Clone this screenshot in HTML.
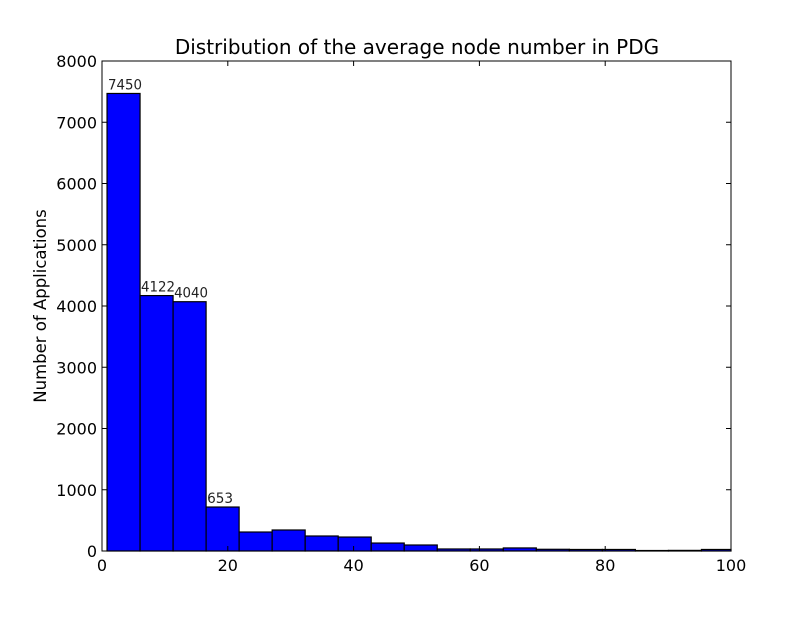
<!DOCTYPE html>
<html><head><meta charset="utf-8"><style>
body{margin:0;background:#fff;}
svg text{font-family:"DejaVu Sans","Liberation Sans",sans-serif;}
</style></head><body>
<svg id="chart" width="812" height="612" xmlns="http://www.w3.org/2000/svg">
<rect width="812" height="612" fill="#fff"/>
<text x="417" y="54" font-size="20" text-anchor="middle">Distribution of the average node number in PDG</text>
<text transform="translate(46,306) rotate(-90)" font-size="16.5" text-anchor="middle">Number of Applications</text>
<g id="bars"></g>
<g id="axes"></g>
</svg>
<script>
const binStart = 0.8;
const binWidth = 5.25;
const counts = [7470, 4170, 4070, 718, 310, 343, 245, 228, 130, 98, 33, 33, 50, 28, 25, 25, 8, 10, 25];
const annotatedBins = [0, 1, 2, 3];
const annotationLabels = ["7450", "4122", "4040", "653"];
const xTicks = [0, 20, 40, 60, 80, 100];
const yTicks = [0, 1000, 2000, 3000, 4000, 5000, 6000, 7000, 8000];
const L=102,R=731,T=61,B=551;
const xs=v=>L+(v-0)/(100-0)*(R-L);
const ys=v=>B-(v/8000)*(B-T);
const NS="http://www.w3.org/2000/svg";
const bars=document.getElementById('bars'), axes=document.getElementById('axes');
function mk(tag,attrs,parent){const e=document.createElementNS(NS,tag);for(const k in attrs)e.setAttribute(k,attrs[k]);parent.appendChild(e);return e;}
counts.forEach((c,i)=>{
  const x0=xs(binStart+i*binWidth), x1=Math.min(xs(binStart+(i+1)*binWidth),R);
  const r=mk('rect',{x:x0,y:ys(c),width:x1-x0,height:B-ys(c),fill:'#0000ff',stroke:'#000','stroke-width':1.2},bars);
  
  
});
annotatedBins.forEach((b,j)=>{
  const t=mk('text',{x:xs(binStart+b*binWidth)+1,y:ys(counts[b])-4,'font-size':14,fill:'#222','font-family':'"Liberation Sans Narrow","Liberation Sans",sans-serif','textLength':34,'lengthAdjust':'spacingAndGlyphs'},bars);
  t.textContent=annotationLabels[j];
  if(annotationLabels[j].length<4)t.setAttribute('textLength',26);
  
  
});
const frame=mk('rect',{x:L,y:T,width:R-L,height:B-T,fill:'none',stroke:'#000','stroke-width':1},axes);


xTicks.forEach(v=>{
  const x=xs(v);
  mk('line',{x1:x,x2:x,y1:B,y2:B-5,stroke:'#000'},axes);
  mk('line',{x1:x,x2:x,y1:T,y2:T+5,stroke:'#000'},axes);
  const t=mk('text',{x:x,y:B+20,'font-size':16,'text-anchor':'middle'},axes);
  t.textContent=v;
  
  
});
yTicks.forEach(v=>{
  const y=ys(v);
  mk('line',{x1:L,x2:L+5,y1:y,y2:y,stroke:'#000'},axes);
  mk('line',{x1:R,x2:R-5,y1:y,y2:y,stroke:'#000'},axes);
  const t=mk('text',{x:L-5,y:y+6,'font-size':16,'text-anchor':'end'},axes);
  t.textContent=v;
  
  
});
</script>
</body></html>
